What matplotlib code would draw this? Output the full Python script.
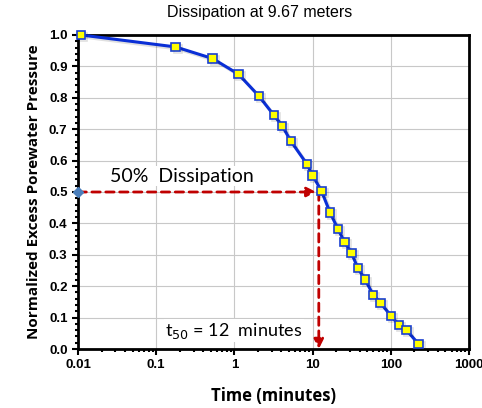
import matplotlib.pyplot as plt
import matplotlib.patheffects as pe
from matplotlib.ticker import LogLocator, MultipleLocator, FixedLocator
import numpy as np

# time (minutes) and normalized excess porewater pressure
time_min = [0.011, 0.177, 0.527, 1.13, 2.05, 3.19, 4.08, 5.27, 8.45, 10.0, 13.0,
            16.7, 21.1, 25.7, 31.4, 37.8, 46.9, 59.4, 73.8, 100, 126.6, 159, 226]
u_norm = [1.0, 0.962, 0.925, 0.875, 0.806, 0.745, 0.711, 0.662, 0.589, 0.553, 0.503,
          0.435, 0.382, 0.340, 0.306, 0.258, 0.221, 0.173, 0.147, 0.106, 0.077, 0.060, 0.016]

t50 = 12
u50 = 0.5
xticks = [0.01, 0.1, 1, 10, 100, 1000]
xticklabels = ["0.01", "0.1", "1", "10", "100", "1000"]

fig = plt.figure(figsize=(4.82, 4.08), dpi=100)
ax = fig.add_axes([78/482, 1 - 349/408, 391/482, 314/408])

ax.set_xscale("log")
ax.set_xlim(0.01, 1000)
ax.set_ylim(0, 1.0)
ax.grid(True, which="major", color="#c8c8c8", lw=0.8)
ax.set_axisbelow(True)

# red dashed construction lines
ax.annotate("", xy=(t50 * 0.93, u50), xytext=(0.01, u50),
            arrowprops=dict(arrowstyle="-|>", color="#c00000", lw=2, ls=(0, (3, 2)),
                            mutation_scale=14, shrinkA=0, shrinkB=0), zorder=3)
ax.annotate("", xy=(t50, 0.0), xytext=(t50, u50),
            arrowprops=dict(arrowstyle="-|>", color="#c00000", lw=2, ls=(0, (3, 2)),
                            mutation_scale=14, shrinkA=0, shrinkB=0), zorder=3)
ax.plot([0.01], [u50], marker="D", color="#4a7ebb", ms=5, clip_on=False, zorder=5)

ax.plot(time_min, u_norm, color="#0a2fd6", lw=2.2, marker="s", ms=6,
        mfc="#ffff00", mec="#1a3fd0", mew=1.2, clip_on=False, zorder=4,
        path_effects=[pe.SimpleLineShadow(offset=(1.5, -1.5), alpha=0.12), pe.Normal()])

ax.text(0.026, 0.55, "50%  Dissipation", fontsize=14, family="Lato",
        ha="left", va="center", zorder=2,
        bbox=dict(facecolor="white", edgecolor="none", pad=1))
ax.text(0.13, 0.058, "t$_{50}$ = 12  minutes", fontsize=13, family="Lato",
        ha="left", va="center", zorder=2,
        bbox=dict(facecolor="white", edgecolor="none", pad=1))

for s in ax.spines.values():
    s.set_linewidth(2)

ax.xaxis.set_major_locator(FixedLocator(xticks))
ax.set_xticklabels(xticklabels)
ax.xaxis.set_minor_locator(LogLocator(base=10, subs=np.arange(2, 10)))
ax.yaxis.set_major_locator(MultipleLocator(0.1))
ax.yaxis.set_minor_locator(MultipleLocator(0.02))
ax.tick_params(which="major", direction="out", length=4, width=1.5, labelsize=9.5)
ax.tick_params(which="minor", direction="out", length=2.5, width=1.5)
for lab in ax.get_xticklabels() + ax.get_yticklabels():
    lab.set_fontweight("bold")
    lab.set_family("Liberation Sans")
ax.yaxis.set_major_formatter(plt.FuncFormatter(lambda v, p: f"{v:.1f}"))

ax.set_xlabel("Time (minutes)", fontsize=12, fontweight="bold", family="Open Sans", labelpad=11)
ax.set_ylabel("Normalized Excess Porewater Pressure", fontsize=11, fontweight="bold",
              family="Open Sans", labelpad=6)
fig.text(260/482, 1 - 13/408, "Dissipation at 9.67 meters", fontsize=11.5,
         family="Liberation Sans", ha="center", va="center")

fig.savefig("out.png", dpi=100)
